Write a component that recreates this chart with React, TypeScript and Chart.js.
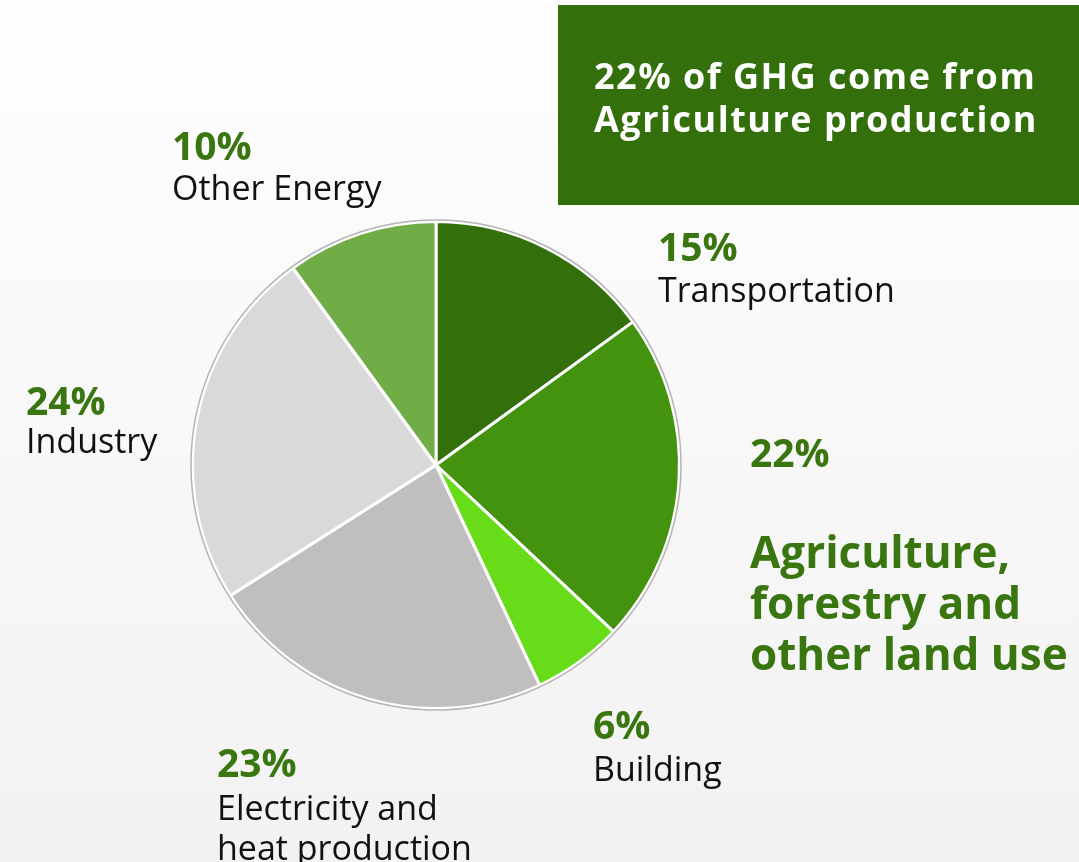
import React, { useEffect, useRef } from "react";
import { Chart, registerables } from "chart.js";

Chart.register(...registerables);

const categories = [
  "Transportation",
  "Agriculture, forestry and other land use",
  "Building",
  "Electricity and heat production",
  "Industry",
  "Other Energy",
];
const shares = [15, 22, 6, 23, 24, 10];
const sliceColors = ["#336f0b", "#44930f", "#66dd18", "#bfbfbf", "#d9d9d9", "#70ad47"];
const titleLines = ["22% of GHG come from", "Agriculture production"];

const W = 1079;
const H = 862;
const FONT = "'Open Sans', 'DejaVu Sans', sans-serif";
const GREEN_TEXT = "#39760f";

// label layout: x, baseline of percent, baseline of first name line, line height, wrap width, emphasised
const labelLayout = [
  { x: 658, pctY: 261, nameY: 302, lh: 40, wrap: 400, strong: false },
  { x: 750, pctY: 467, nameY: 568, lh: 51, wrap: 330, strong: true },
  { x: 593, pctY: 739, nameY: 781, lh: 40, wrap: 400, strong: false },
  { x: 217, pctY: 777, nameY: 820, lh: 40, wrap: 280, strong: false },
  { x: 26, pctY: 415, nameY: 453, lh: 40, wrap: 400, strong: false },
  { x: 172, pctY: 160, nameY: 200, lh: 40, wrap: 400, strong: false },
];

function wrapText(ctx: CanvasRenderingContext2D, text: string, maxW: number): string[] {
  const words = text.split(" ");
  const lines: string[] = [];
  let cur = "";
  for (const w of words) {
    const test = cur ? cur + " " + w : w;
    if (ctx.measureText(test).width > maxW && cur) {
      lines.push(cur);
      cur = w;
    } else cur = test;
  }
  if (cur) lines.push(cur);
  return lines;
}

const decorPlugin = {
  id: "decor",
  beforeDraw(chart: any) {
    const ctx = chart.ctx as any;
    ctx.save();
    const g = ctx.createLinearGradient(0, 0, 0, H);
    g.addColorStop(0, "#fefefe");
    g.addColorStop(1, "#f2f2f2");
    ctx.fillStyle = g;
    ctx.fillRect(0, 0, W, H);
    // title box
    ctx.fillStyle = "#336f0b";
    ctx.fillRect(558, 5, W - 558, 200);
    ctx.fillStyle = "#ffffff";
    ctx.font = `bold 36px ${FONT}`;
    ctx.letterSpacing = "1.5px";
    ctx.textBaseline = "alphabetic";
    ctx.textAlign = "left";
    ctx.fillText(titleLines[0], 594, 89);
    ctx.fillText(titleLines[1], 594, 132);
    ctx.letterSpacing = "0px";
    ctx.restore();
  },
  afterDatasetsDraw(chart: any) {
    const ctx = chart.ctx as CanvasRenderingContext2D;
    const arc = chart.getDatasetMeta(0).data[0];
    if (!arc) return;
    ctx.save();
    ctx.beginPath();
    ctx.arc(arc.x, arc.y, arc.outerRadius + 1.5, 0, Math.PI * 2);
    ctx.strokeStyle = "#b4b4b4";
    ctx.lineWidth = 1.5;
    ctx.stroke();
    ctx.restore();
  },
  afterDraw(chart: any) {
    const ctx = chart.ctx as CanvasRenderingContext2D;
    const labels = chart.data.labels as string[];
    const values = chart.data.datasets[0].data as number[];
    ctx.save();
    ctx.textAlign = "left";
    ctx.textBaseline = "alphabetic";
    labels.forEach((name, i) => {
      const L = labelLayout[i];
      ctx.fillStyle = GREEN_TEXT;
      ctx.font = `bold 39px ${FONT}`;
      ctx.fillText(`${values[i]}%`, L.x, L.pctY);
      if (L.strong) {
        ctx.font = `bold 44px ${FONT}`;
        ctx.fillStyle = GREEN_TEXT;
      } else {
        ctx.font = `34px ${FONT}`;
        ctx.fillStyle = "#111111";
      }
      const lines = wrapText(ctx, name, L.wrap);
      lines.forEach((ln, k) => ctx.fillText(ln, L.x, L.nameY + k * L.lh));
    });
    ctx.restore();
  },
};

export default function App() {
  const ref = useRef<HTMLCanvasElement | null>(null);
  useEffect(() => {
    if (!ref.current) return;
    const chart = new Chart(ref.current, {
      type: "pie",
      data: {
        labels: categories,
        datasets: [
          {
            data: shares,
            backgroundColor: sliceColors,
            borderColor: "#ffffff",
            borderWidth: 3,
          },
        ],
      },
      options: {
        responsive: false,
        animation: false,
        layout: { padding: { left: 191, top: 220, right: W - 681, bottom: H - 710 } },
        plugins: {
          legend: { display: false },
          tooltip: { enabled: false },
          title: { display: false },
        },
      },
      plugins: [decorPlugin],
    });
    return () => chart.destroy();
  }, []);
  return (
    <div style={{ position: "absolute", left: 0, top: 0, width: W, height: H, overflow: "hidden" }}>
      <canvas ref={ref} width={W} height={H} style={{ width: W, height: H, display: "block" }} />
    </div>
  );
}
